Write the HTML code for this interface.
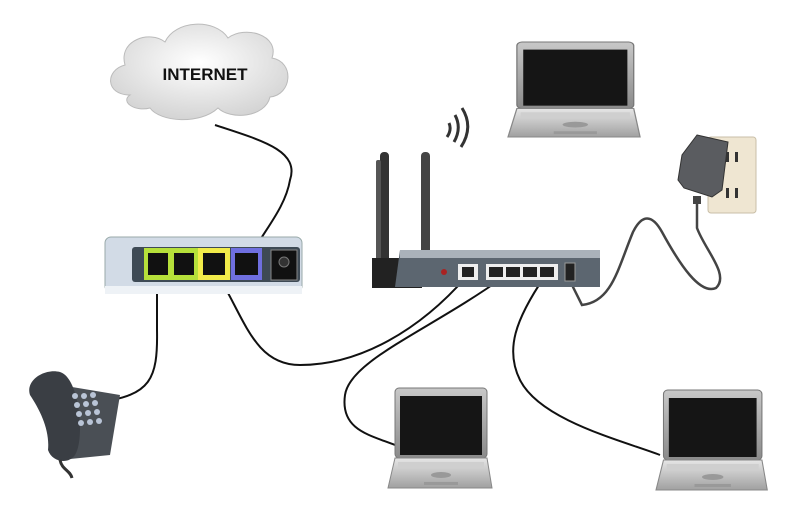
<!DOCTYPE html>
<html><head><style>body{margin:0;background:#fff}svg{display:block}</style></head><body>
<svg width="800" height="518" viewBox="0 0 800 518" xmlns="http://www.w3.org/2000/svg">
<defs>
<linearGradient id="lg" x1="0" y1="0" x2="0" y2="1"><stop offset="0" stop-color="#c8c8c8"/><stop offset="1" stop-color="#8a8a8a"/></linearGradient>
<linearGradient id="bg" x1="0" y1="0" x2="0" y2="1"><stop offset="0" stop-color="#e6e6e6"/><stop offset="1" stop-color="#a0a0a0"/></linearGradient>
<radialGradient id="cl" cx="0.5" cy="0.4" r="0.6"><stop offset="0" stop-color="#ffffff"/><stop offset="1" stop-color="#d4d4d4"/></radialGradient>
<g id="lap">
<rect x="7" y="0" width="92" height="70" rx="4" fill="url(#lg)" stroke="#777"/>
<rect x="12" y="8" width="82" height="59" fill="#151515"/>
<path d="M7 70 L99 70 L104 100 L0 100 Z" fill="url(#bg)" stroke="#888"/>
<rect x="10" y="74" width="86" height="6" fill="#cfcfcf"/>
<ellipse cx="53" cy="87" rx="10" ry="3" fill="#999"/>
<rect x="36" y="94" width="34" height="3" fill="#999"/>
</g>
</defs>
<!-- cables -->
<g fill="none" stroke="#111" stroke-width="2">
<path d="M215 125 C260 140 300 150 290 180 C285 210 260 235 250 258"/>
<path d="M157 272 L157 330 C158 380 150 395 100 402"/>
<path d="M218 275 C245 320 255 365 300 365 C360 365 420 330 467 276"/>
<path d="M505 276 C430 330 350 360 345 395 C340 430 370 435 395 445"/>
<path d="M545 276 C515 320 505 350 520 380 C540 420 620 440 660 455"/>
</g>
<path d="M697 200 L697 228 C705 250 730 275 716 288 C700 295 680 265 662 232 C652 214 642 214 633 232 C618 268 612 302 582 305 L572 285" fill="none" stroke="#444" stroke-width="2.5"/>
<!-- cloud -->
<path d="M130 95 C105 95 105 70 125 65 C118 40 150 30 165 42 C175 20 215 18 228 38 C245 25 280 35 272 58 C295 62 292 95 270 97 C265 118 230 120 218 108 C200 125 160 122 150 108 C135 112 120 102 130 95 Z" fill="url(#cl)" stroke="#bbb"/>
<text x="205" y="80" font-family="Liberation Sans, sans-serif" font-weight="bold" font-size="17" text-anchor="middle" fill="#111">INTERNET</text>
<!-- adapter -->
<rect x="105" y="237" width="197" height="55" rx="6" fill="#d2dbe6" stroke="#9aa"/>
<rect x="105" y="286" width="197" height="8" fill="#eef2f6"/>
<rect x="132" y="247" width="168" height="35" rx="3" fill="#3e4a55"/>
<rect x="144" y="248" width="54" height="32" fill="#b6e03a"/>
<rect x="198" y="248" width="32" height="32" fill="#f2ec4a"/>
<rect x="231" y="248" width="31" height="32" fill="#6f6fe0"/>
<rect x="148" y="253" width="20" height="22" fill="#111"/>
<rect x="174" y="253" width="20" height="22" fill="#111"/>
<rect x="203" y="253" width="22" height="22" fill="#111"/>
<rect x="235" y="253" width="23" height="22" fill="#111"/>
<rect x="271" y="250" width="26" height="30" fill="#111" stroke="#888"/>
<circle cx="284" cy="262" r="5" fill="#333" stroke="#777"/>
<!-- wifi arcs -->
<g fill="none" stroke="#333" stroke-width="3">
<path d="M447 137 Q452 130 449 123"/>
<path d="M454 142 Q462 128 455 115"/>
<path d="M461 147 Q474 127 462 108"/>
</g>
<!-- router -->
<rect x="380" y="152" width="9" height="118" rx="4" fill="#333"/>
<rect x="376" y="160" width="5" height="110" rx="2" fill="#555"/>
<rect x="421" y="152" width="9" height="108" rx="4" fill="#444"/>
<rect x="372" y="258" width="50" height="30" fill="#222"/>
<path d="M400 250 L600 250 L600 287 L395 287 Z" fill="#5c6670"/>
<rect x="400" y="250" width="200" height="8" fill="#aab2ba"/>
<rect x="458" y="264" width="20" height="16" fill="#eee"/><rect x="462" y="267" width="12" height="10" fill="#222"/>
<rect x="486" y="264" width="72" height="16" fill="#eee"/>
<rect x="489" y="267" width="14" height="10" fill="#222"/><rect x="506" y="267" width="14" height="10" fill="#222"/><rect x="523" y="267" width="14" height="10" fill="#222"/><rect x="540" y="267" width="14" height="10" fill="#222"/>
<rect x="565" y="263" width="10" height="18" fill="#222" stroke="#999"/>
<circle cx="444" cy="272" r="3" fill="#a22"/>
<!-- outlet + plug -->
<rect x="708" y="137" width="48" height="76" rx="3" fill="#efe6d2" stroke="#c9bfa8"/>
<rect x="726" y="152" width="3" height="10" fill="#333"/><rect x="735" y="152" width="3" height="10" fill="#333"/>
<rect x="726" y="188" width="3" height="10" fill="#333"/><rect x="735" y="188" width="3" height="10" fill="#333"/>
<path d="M697 135 L728 142 L722 190 L712 197 L684 188 L678 180 L682 155 Z" fill="#5a5c60" stroke="#333"/>
<rect x="693" y="196" width="8" height="8" fill="#444"/>
<!-- laptops -->
<use href="#lap" transform="translate(508,42) scale(1.27,0.95)"/>
<use href="#lap" transform="translate(388,388)"/>
<use href="#lap" transform="translate(656,390) scale(1.07,1)"/>
<!-- phone -->
<path d="M60 385 L120 395 L110 455 L60 460 Z" fill="#4a4f55"/>
<path d="M30 395 C25 380 45 368 60 372 C80 378 85 440 75 455 C68 465 52 462 48 450 C50 430 40 410 30 395 Z" fill="#3a3e44"/>
<g fill="#b9c4d6">
<circle cx="75" cy="396" r="3"/><circle cx="84" cy="396" r="3"/><circle cx="93" cy="395" r="3"/>
<circle cx="77" cy="405" r="3"/><circle cx="86" cy="404" r="3"/><circle cx="95" cy="403" r="3"/>
<circle cx="79" cy="414" r="3"/><circle cx="88" cy="413" r="3"/><circle cx="97" cy="412" r="3"/>
<circle cx="81" cy="423" r="3"/><circle cx="90" cy="422" r="3"/><circle cx="99" cy="421" r="3"/>
</g>
<path d="M60 460 C62 470 70 470 72 478" stroke="#333" stroke-width="3" fill="none"/>
</svg>
</body></html>
